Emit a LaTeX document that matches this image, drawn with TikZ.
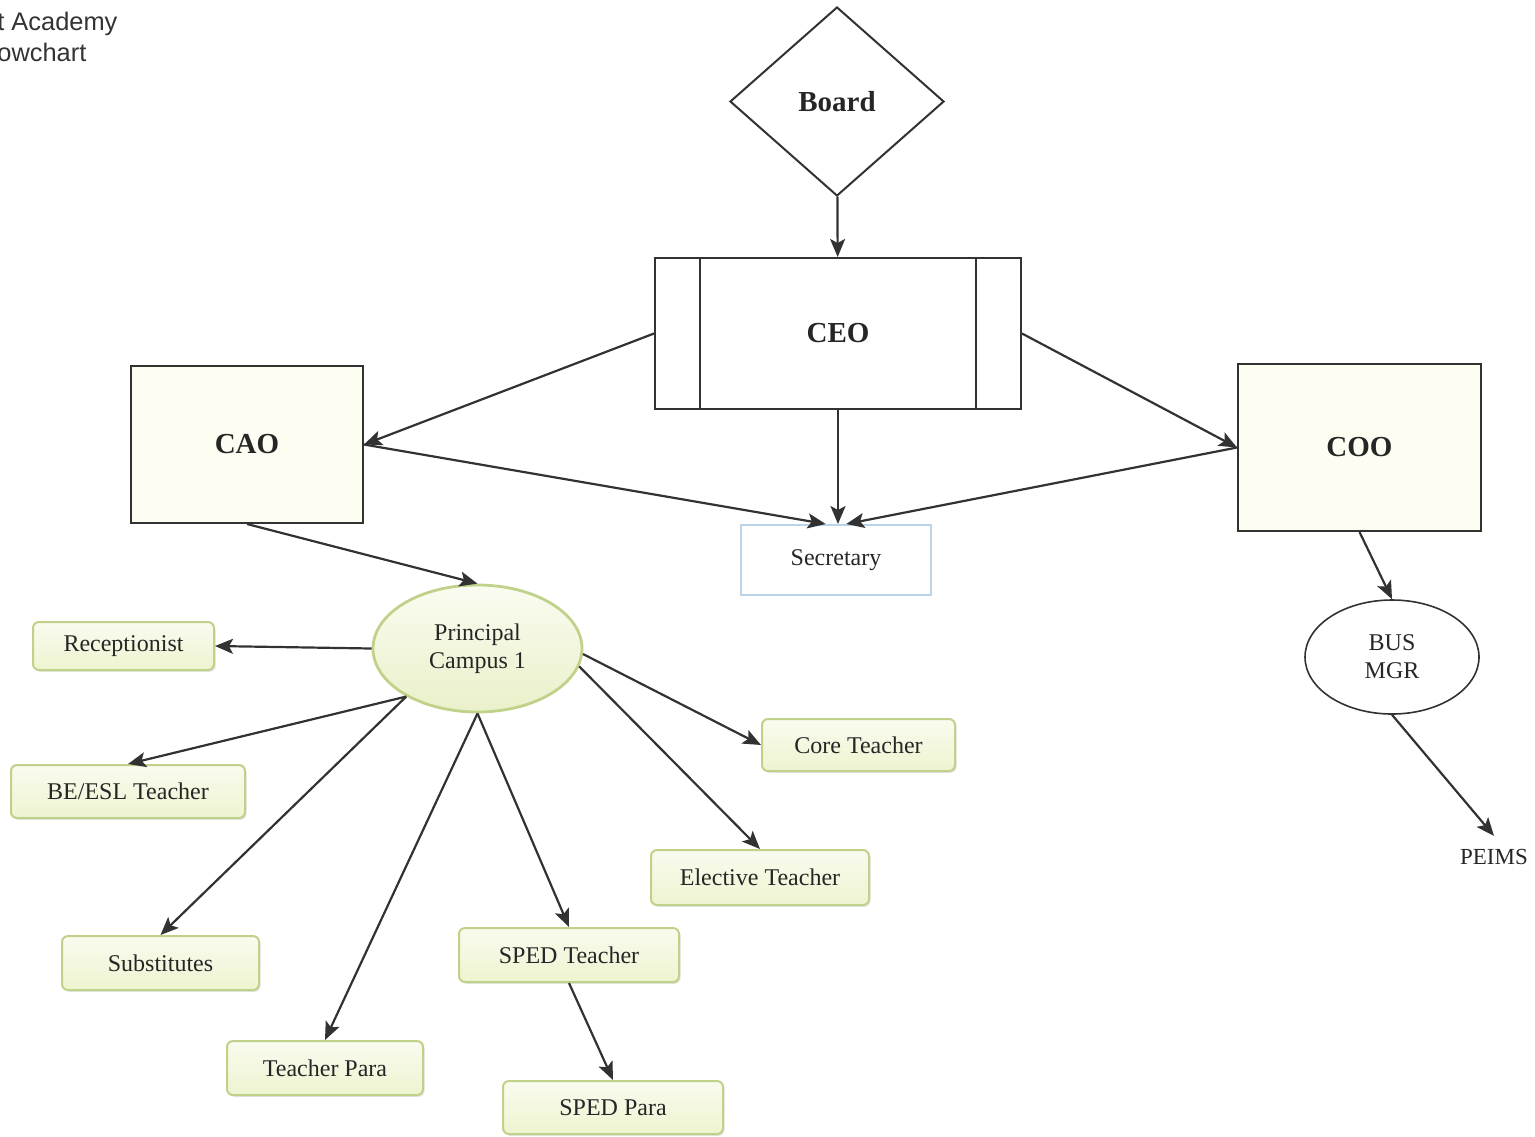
\documentclass[tikz,border=0pt]{standalone}
\usepackage{fontspec}
\setmainfont{Liberation Serif}
\newfontfamily\titlefont{Liberation Sans}
\usetikzlibrary{arrows.meta,positioning,shapes.geometric,shadows,calc}
\definecolor{lineg}{RGB}{50,50,50}
\definecolor{cream}{RGB}{253,253,242}
\definecolor{leafedge}{RGB}{192,210,138}
\definecolor{leaffill}{RGB}{238,244,208}
\definecolor{secedge}{RGB}{188,212,232}

\begin{document}
\begin{tikzpicture}[
  x=0.5pt,y=-0.5pt,
  text=black!85,
  exec/.style={draw=lineg,line width=1pt,fill=cream,inner sep=0pt,
               font=\fontsize{14.5}{17}\selectfont\bfseries},
  leaf/.style={draw=leafedge,line width=1pt,rounded corners=3pt,
               top color=leaffill!35!white,bottom color=leaffill,
               drop shadow={shadow xshift=0.8pt,shadow yshift=-0.9pt,fill=black!22},
               inner sep=0pt,font=\fontsize{12}{14}\selectfont},
  oval/.style={ellipse,inner sep=0pt,align=center,font=\fontsize{12}{14}\selectfont},
  arr/.style={-{Stealth[length=9pt,width=7.5pt,inset=2pt]},lineg,line width=1.1pt}
]
  \useasboundingbox (0,0) rectangle (1535,1136);

  \node[anchor=north west,inner sep=0pt,align=left,text=black!80,
        font=\titlefont\fontsize{12.7}{15.5}\selectfont] (title) at (-3,12) {t Academy\\owchart};

  % top of the chart
  \node[diamond,draw=lineg,line width=1pt,minimum width=107pt,minimum height=94.5pt,
        inner sep=0pt,font=\fontsize{14.5}{17}\selectfont\bfseries] (board) at (837,101.5) {Board};
  \node[exec,fill=white,minimum width=183pt,minimum height=75.5pt] (ceo) at (838,333.5) {CEO};
  \draw[lineg,line width=1pt] ($(ceo.north west)+(46,0)$) -- ($(ceo.south west)+(46,0)$);
  \draw[lineg,line width=1pt] ($(ceo.north east)+(-46,0)$) -- ($(ceo.south east)+(-46,0)$);

  \node[exec,minimum width=116pt,minimum height=78.5pt] (cao) at (247,444.5) {CAO};
  \node[exec,minimum width=121.5pt,minimum height=83.5pt] (coo) at (1359.5,447.5) {COO};
  \node[draw=secedge,line width=1pt,minimum width=95pt,minimum height=35pt,inner sep=0pt,
        font=\fontsize{12}{14}\selectfont] (sec) at (836,560) {Secretary};

  % operations side
  \node[oval,draw=lineg,line width=0.8pt,fill=white,minimum width=87pt,minimum height=57pt]
        (bus) at (1392,657) {BUS\\MGR};
  \node[inner xsep=0pt,inner ysep=6.5pt,font=\fontsize{11.5}{14}\selectfont] (peims) at (1494,857) {PEIMS};

  % campus
  \node[oval,draw=leafedge,line width=1.4pt,top color=leaffill!30!white,bottom color=leaffill!90!leafedge,
        minimum width=104.5pt,minimum height=63.5pt] (prin) at (477.5,648.5) {Principal\\Campus 1};
  \node[leaf,minimum width=90.5pt,minimum height=24pt]   (recep)  at (123.5,646)   {Receptionist};
  \node[leaf,minimum width=117pt,minimum height=26.5pt]  (esl)    at (128,791.5)   {BE/ESL Teacher};
  \node[leaf,minimum width=98.5pt,minimum height=27pt]   (subs)   at (160.5,963)   {Substitutes};
  \node[leaf,minimum width=98pt,minimum height=27pt]     (tpara)  at (325,1068)    {Teacher Para};
  \node[leaf,minimum width=110pt,minimum height=27pt]    (sped)   at (569,955)     {SPED Teacher};
  \node[leaf,minimum width=110pt,minimum height=26.5pt]  (spara)  at (613,1107.5)  {SPED Para};
  \node[leaf,minimum width=109pt,minimum height=27.5pt]  (elect)  at (760,877.5)   {Elective Teacher};
  \node[leaf,minimum width=96.5pt,minimum height=26pt]   (core)   at (858.5,745)   {Core Teacher};

  \draw[arr] (board) -- (ceo);
  \draw[arr] (ceo.west)  -- (cao.east);
  \draw[arr] (ceo.east)  -- (coo.west);
  \draw[arr] (ceo.south) -- (ceo.south |- sec.north);
  \draw[arr] (cao.east)  -- (sec.106);
  \draw[arr] (coo.west)  -- (sec.74);
  \draw[arr] (cao.south) -- (prin.north);
  \draw[arr] (coo.south) -- (bus.north);
  \draw[arr] (bus.south) -- (peims.north);

  \draw[arr] (prin.west) -- (recep.east);
  \draw[arr] (prin.214)  -- (esl.north);
  \draw[arr] (prin.214)  -- (subs.north);
  \draw[arr] (prin.south) -- (tpara.north);
  \draw[arr] (prin.south) -- (sped.north);
  \draw[arr] (prin.357)  -- (core.west);
  \draw[arr] (prin.350)  -- (elect.north);
  \draw[arr] (sped.south) -- (spara.north);
\end{tikzpicture}
\end{document}
